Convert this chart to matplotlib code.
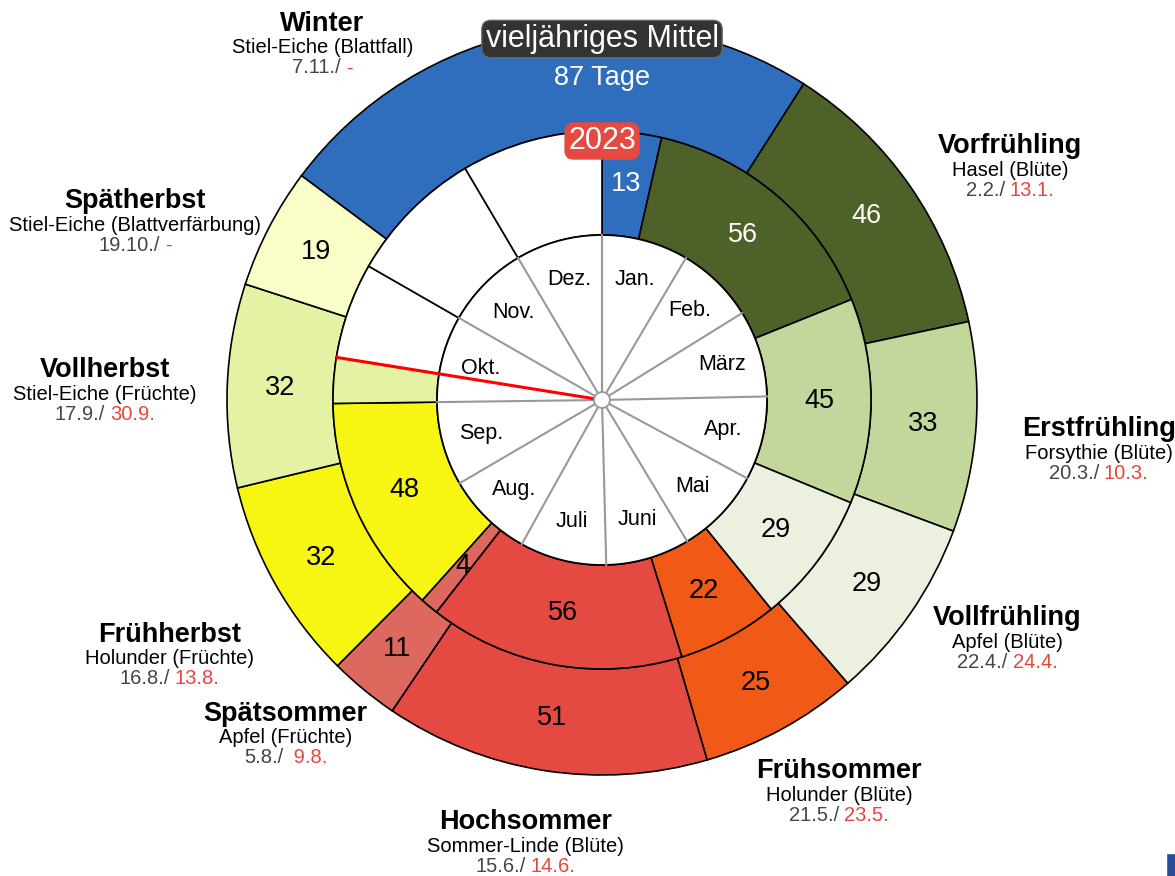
import matplotlib.pyplot as plt
import numpy as np
from matplotlib.patches import Wedge, Circle, Rectangle
from datetime import date

plt.rcParams['font.family'] = ['Liberation Sans', 'DejaVu Sans']

# phaenologische Jahreszeiten, beginnend mit Winter
seasons = ['Winter', 'Vorfrühling', 'Erstfrühling', 'Vollfrühling', 'Frühsommer',
           'Hochsommer', 'Spätsommer', 'Frühherbst', 'Vollherbst', 'Spätherbst']
plants = ['Stiel-Eiche (Blattfall)', 'Hasel (Blüte)', 'Forsythie (Blüte)', 'Apfel (Blüte)',
          'Holunder (Blüte)', 'Sommer-Linde (Blüte)', 'Apfel (Früchte)', 'Holunder (Früchte)',
          'Stiel-Eiche (Früchte)', 'Stiel-Eiche (Blattverfärbung)']
mean_start = ['7.11.', '2.2.', '20.3.', '22.4.', '21.5.', '15.6.', '5.8.', '16.8.', '17.9.', '19.10.']
start_2023 = ['-', '13.1.', '10.3.', '24.4.', '23.5.', '14.6.', ' 9.8.', '13.8.', '30.9.', '-']
mean_days = [87, 46, 33, 29, 25, 51, 11, 32, 32, 19]
days_2023 = [13, 56, 45, 29, 22, 56, 4, 48]
today = '10.10.'
months = ['Jan.', 'Feb.', 'März', 'Apr.', 'Mai', 'Juni', 'Juli', 'Aug.', 'Sep.', 'Okt.', 'Nov.', 'Dez.']

colors = ['#2f6ebd', '#4e6129', '#c3d69b', '#ebf1de', '#f05a16',
          '#e44a41', '#dc685e', '#f6f612', '#e4f2a4', '#fbfdc8']
text_colors = ['white', 'white'] + ['black'] * 8
# Feinjustierung der aeusseren Beschriftung (Winkel, Radiusfaktor)
label_shift = [-25.5, 3, 2.5, -1.5, 0, 0, 1, -4, -1.5, -5]
label_scale = [0.955, 0.96, 1.0, 0.97, 0.99, 0.993, 0.975, 1.035, 0.995, 1.01]

CX, CY = 602, 400
R0, R1, R2 = 165, 269, 375


def doy(s):
    d, m = s.strip().strip('.').split('.')
    return date(2023, int(m), int(d)).timetuple().tm_yday


def ang(day):
    return day / 365 * 360


def polar(a, r, ry=None):
    t = np.radians(a)
    return CX + r * np.sin(t), CY - (ry if ry else r) * np.cos(t)


fig = plt.figure(figsize=(11.75, 8.76), dpi=100)
ax = fig.add_axes([0, 0, 1, 1])
ax.set_xlim(0, 1175)
ax.set_ylim(876, 0)
ax.axis('off')


def ring(a1, a2, r_in, r_out, color):
    ax.add_patch(Wedge((CX, CY), r_out, a1 - 90, a2 - 90, width=r_out - r_in,
                       fc=color, ec='black', lw=1.2))


# aeusserer Ring: vieljaehriges Mittel
for i in range(len(seasons)):
    s = doy(mean_start[i])
    e = s + mean_days[i]
    ring(ang(s), ang(e), R1, R2, colors[i])
    if i == 0:
        x, y = polar(0, (R1 + R2) / 2)
        txt = f'{mean_days[i]} Tage'
    else:
        x, y = polar(ang((s + e) / 2), (R1 + R2) / 2)
        txt = str(mean_days[i])
    ax.text(x, y, txt, ha='center', va='center', fontsize=19.5, color=text_colors[i])

# mittlerer Ring: 2023
edges = np.concatenate([[0], np.cumsum(days_2023)])
for i, n in enumerate(days_2023):
    ring(ang(edges[i]), ang(edges[i + 1]), R0, R1, colors[i])
    x, y = polar(ang((edges[i] + edges[i + 1]) / 2), (R0 + R1) / 2)
    ax.text(x, y, str(n), ha='center', va='center', fontsize=19.5, color=text_colors[i])

t_now = doy(today)
ring(ang(edges[-1]), ang(t_now), R0, R1, colors[len(days_2023)])

month_start = [doy(f'1.{m}.') - 1 for m in range(1, 13)]
rest = [t_now] + [m for m in month_start if m > t_now] + [365]
for a, b in zip(rest[:-1], rest[1:]):
    ring(ang(a), ang(b), R0, R1, 'white')

# innerer Kreis: Monate
ax.add_patch(Circle((CX, CY), R0, fc='white', ec='black', lw=1.3, zorder=3))
month_end = month_start[1:] + [365]
for m, name in enumerate(months):
    x, y = polar(ang(month_start[m]), R0)
    ax.plot([CX, x], [CY, y], color='#999999', lw=1.5, zorder=4)
    x, y = polar(ang((month_start[m] + month_end[m]) / 2), 125)
    ax.text(x, y, name, ha='center', va='center', fontsize=15.5, zorder=5)

x, y = polar(ang(t_now), R1 - 1)
ax.plot([CX, x], [CY, y], color='red', lw=2.2, zorder=6)
ax.add_patch(Circle((CX, CY), 8, fc='white', ec='#999999', lw=1.3, zorder=7))

# Beschriftung aussen
renderer = fig.canvas.get_renderer()
for i in range(len(seasons)):
    s = doy(mean_start[i])
    a = ang(s + mean_days[i] / 2) + label_shift[i]
    x, y = polar(a, 500 * label_scale[i], 455 * label_scale[i])
    ax.text(x, y - 24, seasons[i], ha='center', va='center', fontsize=19.5, fontweight='bold')
    ax.text(x, y, plants[i], ha='center', va='center', fontsize=14.5)
    t1 = ax.text(0, y + 20, mean_start[i] + '/', ha='left', va='center', fontsize=14.5, color='#444444')
    t2 = ax.text(0, y + 20, start_2023[i], ha='left', va='center', fontsize=14.5, color='#e8463c')
    w1 = t1.get_window_extent(renderer).width
    w2 = t2.get_window_extent(renderer).width
    x0 = x - (w1 + w2 + 5) / 2
    t1.set_x(x0)
    t2.set_x(x0 + w1 + 5)

ax.text(CX, 39, 'vieljähriges Mittel', ha='center', va='center', fontsize=22, color='white',
        bbox=dict(boxstyle='round,pad=0.12,rounding_size=0.3', fc='#333333', ec='#666666', lw=1))
ax.text(CX, 141, '2023', ha='center', va='center', fontsize=22, color='white',
        bbox=dict(boxstyle='round,pad=0.12,rounding_size=0.3', fc='#e44a41', ec='none'))

ax.add_patch(Rectangle((1166, 853), 14, 26, fc='#2b4b9b', ec='white', lw=1, clip_on=False))

fig.savefig('out.png', dpi=100)
